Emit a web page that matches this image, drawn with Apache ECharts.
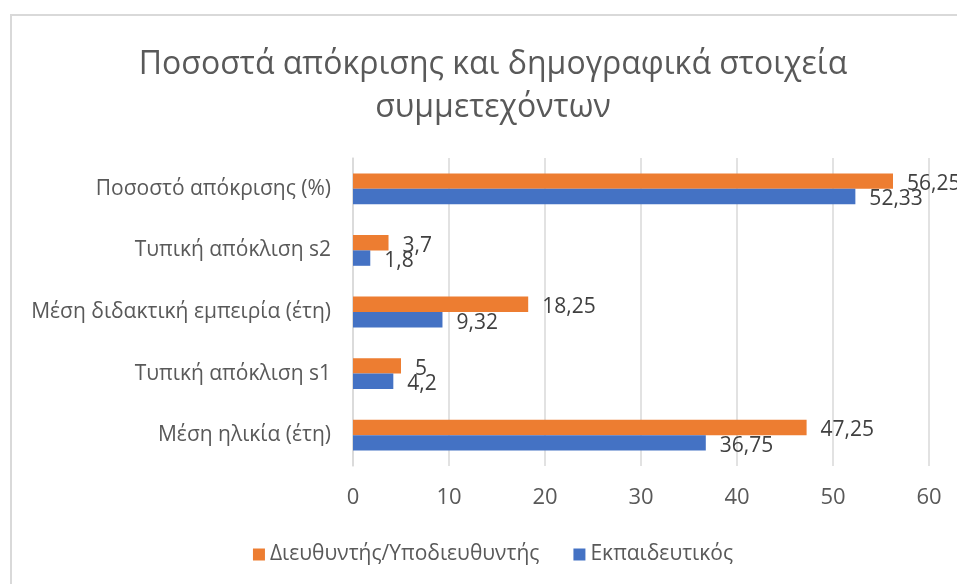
<!DOCTYPE html>
<html>
<head>
<meta charset="utf-8">
<script src="https://cdn.jsdelivr.net/npm/echarts@6/dist/echarts.min.js"></script>
<style>
  html, body { margin: 0; padding: 0; background: #fff; overflow: hidden; }
  #main {
    position: absolute;
    left: 10px;
    top: 14px;
    width: 962px;
    height: 590px;
    border: 2px solid #d9d9d9;
  }
</style>
</head>
<body>
<div id="main"></div>
<script>
// categories go bottom -> top on the y axis
const categories = [
  "Μέση ηλικία (έτη)",
  "Τυπική απόκλιση s1",
  "Μέση διδακτική εμπειρία (έτη)",
  "Τυπική απόκλιση s2",
  "Ποσοστό απόκρισης (%)",
];
const directorValues = [47.25, 5, 18.25, 3.7, 56.25];
const teacherValues = [36.75, 4.2, 9.32, 1.8, 52.33];
const seriesNames = ["Διευθυντής/Υποδιευθυντής", "Εκπαιδευτικός"];
const xTicks = { min: 0, max: 60, interval: 10 };

const font = "'Open Sans', 'Noto Sans', sans-serif";
const chart = echarts.init(document.getElementById("main"));

// excel style decimal comma
const fmt = (p) => String(p.value).replace(".", ",");

chart.setOption({
  animation: false,
  textStyle: { fontFamily: font },
  title: {
    text: "Ποσοστά απόκρισης και δημογραφικά στοιχεία\nσυμμετεχόντων",
    left: "center",
    top: 22,
    textStyle: {
      fontFamily: font,
      fontSize: 32,
      fontWeight: "normal",
      lineHeight: 43,
      color: "#595959",
    },
  },
  legend: {
    data: seriesNames,
    top: 523,
    left: "center",
    icon: "rect",
    itemWidth: 12,
    itemHeight: 12,
    itemGap: 34,
    textStyle: { fontFamily: font, fontSize: 21, color: "#595959" },
  },
  grid: {
    left: 341,
    top: 142,
    width: 576,
    height: 308,
  },
  xAxis: {
    type: "value",
    min: xTicks.min,
    max: xTicks.max,
    interval: xTicks.interval,
    axisLine: { show: false },
    axisTick: { show: false },
    splitLine: { lineStyle: { color: "#d9d9d9", width: 1.5 } },
    axisLabel: { fontSize: 22, color: "#595959", margin: 21 },
  },
  yAxis: {
    type: "category",
    data: categories,
    axisLine: { show: true, lineStyle: { color: "#d9d9d9", width: 1.5 } },
    axisTick: { show: false },
    axisLabel: { fontSize: 21, color: "#595959", margin: 22 },
  },
  series: [
    {
      name: seriesNames[0],
      type: "bar",
      data: directorValues,
      itemStyle: { color: "#ed7d31" },
      barGap: "0%",
      barCategoryGap: "50%",
      label: {
        show: true,
        position: "right",
        distance: 14,
        offset: [0, 3],
        fontSize: 21,
        color: "#404040",
        formatter: fmt,
      },
    },
    {
      name: seriesNames[1],
      type: "bar",
      data: teacherValues,
      itemStyle: { color: "#4472c4" },
      barGap: "0%",
      barCategoryGap: "50%",
      label: {
        show: true,
        position: "right",
        distance: 14,
        offset: [0, 3],
        fontSize: 21,
        color: "#404040",
        formatter: fmt,
      },
    },
  ],
});
</script>
</body>
</html>
